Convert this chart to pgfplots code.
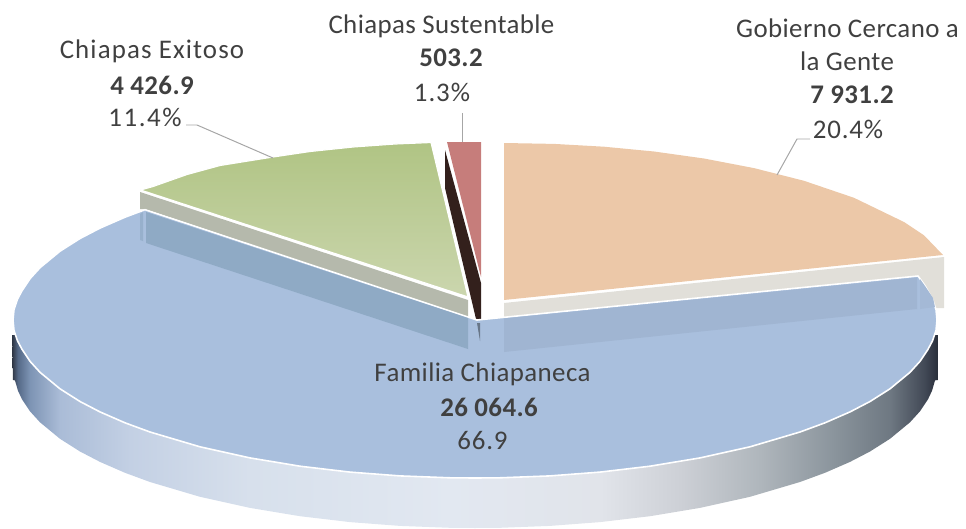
\documentclass[border=0pt]{standalone}
\usepackage{fontspec}
\setmainfont[LetterSpace=1.5]{Carlito}
\usepackage{pgfplots}
\pgfplotsset{compat=1.18}
\definecolor{blueT}{RGB}{169,191,221}
\definecolor{orangeT}{RGB}{236,200,168}
\definecolor{orangeS}{RGB}{225,223,217}
\definecolor{greenA}{RGB}{176,196,132}
\definecolor{greenB}{RGB}{203,214,174}
\definecolor{greenS}{RGB}{181,185,172}
\definecolor{redT}{RGB}{198,125,123}
\definecolor{darkS}{RGB}{51,32,28}
\definecolor{bandG}{RGB}{143,170,197}
\definecolor{bandO}{RGB}{160,181,210}
\definecolor{lead}{RGB}{166,166,166}
\definecolor{txt}{RGB}{64,64,64}
\definecolor{sa}{RGB}{45,52,65}
\definecolor{sb}{RGB}{85,105,135}
\definecolor{sc}{RGB}{125,148,180}
\definecolor{sd}{RGB}{170,188,215}
\definecolor{se}{RGB}{195,208,228}
\definecolor{sf}{RGB}{215,224,236}
\definecolor{sg}{RGB}{226,232,241}
\definecolor{sh}{RGB}{225,228,234}
\definecolor{si}{RGB}{205,208,214}
\definecolor{sj}{RGB}{175,182,188}
\definecolor{sk}{RGB}{140,150,158}
\definecolor{sl}{RGB}{110,120,130}
\definecolor{sm}{RGB}{65,72,85}
\definecolor{sn}{RGB}{40,46,58}
\pgfdeclarehorizontalshading{sidegrad}{100bp}{
color(0bp)=(sa); color(25bp)=(sa); color(25.32bp)=(sb); color(25.97bp)=(sc);
color(27.59bp)=(sd); color(31.37bp)=(se); color(37.85bp)=(sf); color(48.65bp)=(sg);
color(56.75bp)=(sh); color(61.07bp)=(si); color(65.39bp)=(sj); color(69.17bp)=(sk);
color(72.41bp)=(sl); color(74.30bp)=(sm); color(75bp)=(sn); color(100bp)=(sn)}
\begin{document}
\begin{tikzpicture}
\begin{axis}[
  scale only axis, width=966bp, height=529bp,
  xmin=0, xmax=966, ymin=0, ymax=529, y dir=reverse,
  hide axis, clip=false, no markers,
  every axis plot/.append style={line join=round},
]
\path (axis cs:0,0) rectangle (axis cs:966,529);
% side wall of the large slice
\addplot[draw=none, shade, shading=sidegrad] coordinates {
(12,335)(13,380)(15,380.4)(18,390.8)(22,399.3)(30,411.3)(40,422.3)(60,438.8)(80,451.5)(100,461.9)(125,472.8)(150,482)(200,496.8)(250,507.9)(300,516.2)(350,522.1)(400,525.9)(450,527.8)(475,528)(500,527.8)(550,525.9)(600,522.1)(650,516.2)(700,507.9)(750,496.8)(800,482)(825,472.8)(850,461.9)(870,451.5)(890,438.8)(910,422.3)(920,411.3)(928,399.3)(932,390.8)(935,380.4)(938,380)(938,335)(12,335)};
% orange slice
\addplot[draw=none, fill=orangeS] coordinates {(504,303)(944,257)(944,308)(900,308)(504,330)(504,303)};
\addplot[draw=none, fill=orangeT] coordinates {
(504,143)(554,143.9)(604,146.7)(654,151.5)(704,158.5)(754,168.1)(804,180.8)(854,197.8)(904,222)(924,235.3)(943,255)(504,300)(504,143)};
% green slice
\addplot[draw=none, fill=greenS] coordinates {(140,192)(140,209)(145,209)(468,317)(468,300)(140,192)};
\addplot[draw=white, line width=1.2pt, shade, top color=greenA, bottom color=greenB] coordinates {
(140.5,190)(153,186.5)(187,174.5)(220,165.5)(273,157)(310,151.5)(353,147)(395,144)(431,142.5)(468,297)(140.5,190)};
% dark and red slice
\addplot[draw=none, fill=darkS] coordinates {(445,150)(445,188)(476,319)(481,319)(481,283)(445,150)};
\addplot[draw=none, fill=redT] coordinates {(447,142)(481,142)(481,277)(447,142)};
% large blue top
\addplot[draw=white, line width=1.6pt, fill=blueT] coordinates {
(477,320)(145,209.7)(125,217.2)(100,228.1)(80,238.5)(60,251.2)(40,267.7)(30,278.7)(22,290.7)(17.5,299.2)(14,309.6)(13,320)(14,330.4)(17.5,340.8)(22,349.3)(30,361.3)(40,372.3)(60,388.8)(80,401.5)(100,411.9)(125,422.8)(150,432)(200,446.8)(250,457.9)(300,466.2)(350,472.1)(400,475.9)(450,477.8)(475,478)(500,477.8)(550,475.9)(600,472.1)(650,466.2)(700,457.9)(750,446.8)(800,432)(825,422.8)(850,411.9)(870,401.5)(890,388.8)(910,372.3)(920,361.3)(928,349.3)(932.5,340.8)(936,330.4)(937,320)(936,309.6)(932.5,299.2)(925,285.7)(918,276)(477,320)};
% shadows on the blue top
\addplot[draw=none, fill=bandG] coordinates {(146,212)(146,243)(468,349)(468,318)(146,212)};
\addplot[draw=none, fill=bandG!70!blueT] coordinates {(140,214)(143,212)(143,241)(140,240)(140,214)};
\addplot[draw=none, fill=bandO] coordinates {(504,318.5)(504,352)(917,309)(917,277.5)(504,318.5)};
\addplot[draw=none, fill=bandO!60!blueT] coordinates {(920,279)(920,309)(935,307)(933,298)(925,286)(920,279)};
\addplot[draw=none, fill=black!35!bandO] coordinates {(477,323)(480,323)(480,341)(477,323)};
% leader lines
\addplot[lead, line width=1pt] coordinates {(186,125)(197,125)(273,158)};
\addplot[lead, line width=1pt] coordinates {(462,113)(462,142)};
\addplot[lead, line width=1pt] coordinates {(777,175)(797,139)(810,139)};
% labels
\tikzset{lab/.style={text=txt, font=\fontsize{27}{32}\selectfont, inner sep=0pt, anchor=center}}
\node[lab] at (axis cs:152,51) {\addfontfeature{LetterSpace=4.2}Chiapas Exitoso};
\node[lab] at (axis cs:152,85) {\bfseries 4 426.9};
\node[lab] at (axis cs:145,117) {\addfontfeature{LetterSpace=6}11.4\%};
\node[lab] at (axis cs:441.5,26) {Chiapas Sustentable};
\node[lab] at (axis cs:451,58) {\bfseries 503.2};
\node[lab] at (axis cs:442,92) {\addfontfeature{LetterSpace=3.5}1.3\%};
\node[lab] at (axis cs:847.5,28) {Gobierno Cercano a};
\node[lab] at (axis cs:847,61) {la Gente};
\node[lab] at (axis cs:852,95) {\bfseries 7 931.2};
\node[lab] at (axis cs:848,129) {\addfontfeature{LetterSpace=3}20.4\%};
\node[lab] at (axis cs:482.5,374) {Familia Chiapaneca};
\node[lab] at (axis cs:489,407) {\bfseries 26 064.6};
\node[lab] at (axis cs:482.5,441) {\addfontfeature{LetterSpace=3}66.9};
\end{axis}
\end{tikzpicture}
\end{document}
